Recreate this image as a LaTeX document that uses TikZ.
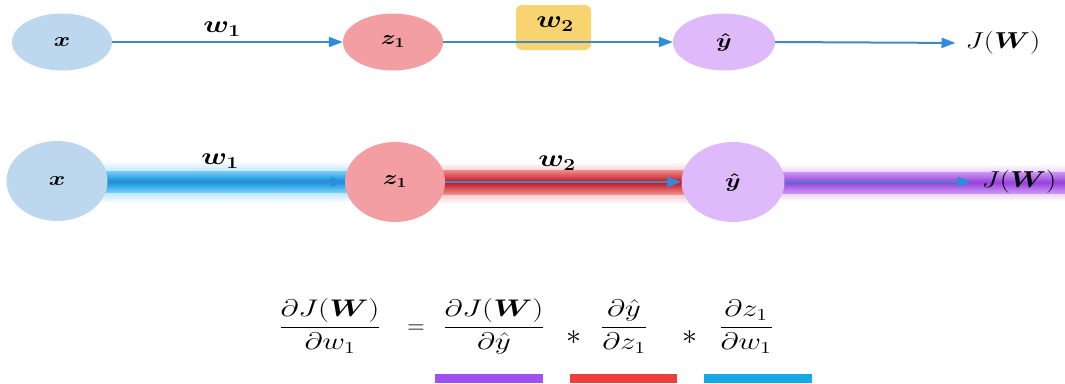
\RequirePackage{fix-cm}
\documentclass[tikz,border=0pt]{standalone}
\usepackage{amsmath,bm,graphicx}
\usetikzlibrary{shapes.geometric,arrows.meta}
\definecolor{xfill}{RGB}{189,215,238}
\definecolor{zfill}{RGB}{242,158,162}
\definecolor{yfill}{RGB}{222,186,250}
\definecolor{wfill}{RGB}{248,212,112}
\definecolor{lineblue}{RGB}{66,136,200}
\definecolor{tipblue}{RGB}{45,140,222}
\definecolor{glowblue}{RGB}{120,205,245}
\definecolor{coreblue}{RGB}{10,145,225}
\definecolor{glowred}{RGB}{240,140,140}
\definecolor{corered}{RGB}{190,20,30}
\definecolor{glowpurple}{RGB}{205,150,245}
\definecolor{corepurple}{RGB}{150,65,220}
\definecolor{barpurple}{RGB}{158,80,240}
\definecolor{barred}{RGB}{238,62,62}
\definecolor{barblue}{RGB}{25,168,228}
\newcommand\fsz[1]{\fontsize{#1}{#1}\selectfont}
\newcommand\wider[1]{\scalebox{1.25}[1]{#1}}
\newcommand\eqwide[1]{\scalebox{1.3}[1]{#1}}
\begin{document}
\begin{tikzpicture}[x=1pt,y=-1pt,
  ell/.style={ellipse, inner sep=0pt, minimum width=100pt, minimum height=57pt},
  bigell/.style={ellipse, inner sep=0pt, minimum width=101pt, minimum height=80pt},
  conn/.style={draw=lineblue, line width=2pt, -{Triangle[length=14pt,width=10pt,color=tipblue]}},
  lbl/.style={inner sep=0pt, font=\fsz{20}\boldmath},
  wlbl/.style={inner sep=0pt, font=\fsz{24}\boldmath},
  jlbl/.style={inner sep=0pt, font=\fsz{23}},
  eqn/.style={inner sep=0pt, anchor=base, font=\fsz{24}},
  star/.style={inner sep=0pt, font=\fsz{30}}]
\useasboundingbox (0,0) rectangle (1065,383);
% ---------- top row ----------
\node[draw=none, fill=wfill, rounded corners=6pt, minimum width=75pt, minimum height=45pt, inner sep=0pt] (w2box) at (553.5,27.5) {};
\node[wlbl] (w2t) at (555,24) {\wider{$w_2$}};
\node[ell, fill=xfill] (xa) at (62,42) {};
\node[lbl] at (xa.center) {\wider{$x$}};
\node[ell, fill=zfill] (za) at (393,42) {};
\node[lbl] at (za.center) {\wider{$z_1$}};
\node[ell, fill=yfill, minimum width=102pt] (ya) at (724,42) {};
\node[lbl] at (ya.center) {\wider{$\hat y$}};
\node[jlbl] (Jt) at (1003,43) {\wider{$J(\bm W)$}};
\node[wlbl] (w1t) at (222,29) {\wider{$w_1$}};
\draw[conn] (xa.east) -- (za.west);
\draw[conn] (za.east) -- (ya.west);
\draw[conn, shorten >=10pt] (ya.east) -- (Jt.west);
% ---------- bottom row ----------
\shade[top color=white, bottom color=white, middle color=glowblue] (100,161) rectangle (350,203);
\shade[top color=glowblue, bottom color=glowblue, middle color=coreblue] (100,171) rectangle (350,192);
\shade[top color=white, bottom color=white, middle color=glowred] (440,162) rectangle (690,204);
\shade[top color=glowred, bottom color=glowred, middle color=corered] (440,170) rectangle (690,194);
\shade[top color=white, bottom color=white, middle color=glowpurple] (775,164) rectangle (1065,201);
\shade[top color=glowpurple, bottom color=glowpurple, middle color=corepurple] (775,172) rectangle (1065,193);
\node[bigell, fill=xfill] (xb) at (57,181) {};
\node[lbl] at (xb.center) {\wider{$x$}};
\node[bigell, fill=zfill, minimum width=100pt] (zb) at (395,182) {};
\node[lbl] at (zb.center) {\wider{$z_1$}};
\node[bigell, fill=yfill, minimum width=103pt] (yb) at (733,182) {};
\node[lbl] at (yb.center) {\wider{$\hat y$}};
\node[jlbl] (Jb) at (1019,182) {\wider{$J(\bm W)$}};
\node[wlbl] (w1b) at (220,161) {\wider{$w_1$}};
\node[wlbl] (w2b) at (557,163) {\wider{$w_2$}};
\draw[conn] (xb.east) -- (zb.west);
\draw[conn] (zb.east) -- (yb.west);
\draw[conn, shorten >=10pt] (yb.east) -- (Jb.west);
% ---------- equation ----------
\node[eqn] (f1) at (330,333) {\eqwide{$\displaystyle\frac{\partial J(\bm W)}{\partial w_1}$}};
\node[eqn] (eq) at (416,333) {$=$};
\node[eqn] (f2) at (494,333) {\eqwide{$\displaystyle\frac{\partial J(\bm W)}{\partial \hat y}$}};
\node[star] (s1) at (574,338) {$*$};
\node[eqn] (f3) at (624,333) {\eqwide{$\displaystyle\frac{\partial \hat y}{\partial z_1}$}};
\node[star] (s2) at (690,338) {$*$};
\node[eqn] (f4) at (746,333) {\eqwide{$\displaystyle\frac{\partial z_1}{\partial w_1}$}};
\fill[barpurple] (435,374) rectangle (543,383);
\fill[barred] (570,374) rectangle (677,383);
\fill[barblue] (704,374) rectangle (812,383);
\end{tikzpicture}
\end{document}
